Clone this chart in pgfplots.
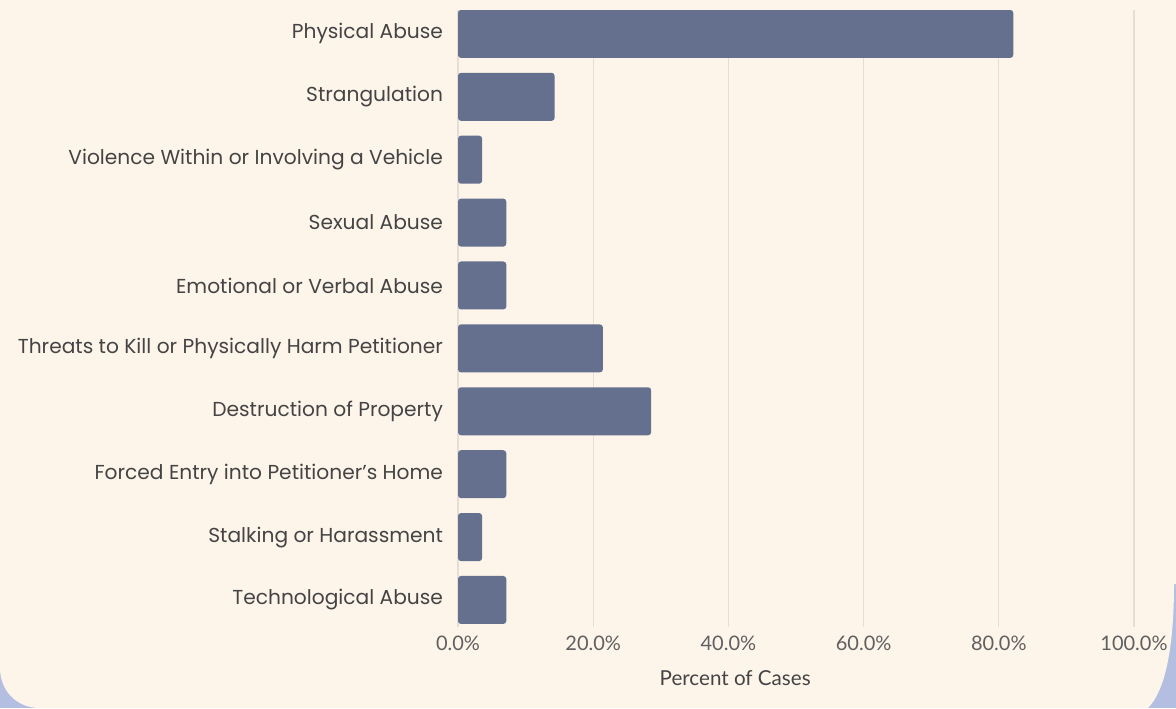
\documentclass[border=0pt]{standalone}
\usepackage{pgfplots}
\pgfplotsset{compat=1.18}
\usepackage{fontspec}
\setmainfont{Poppins}
\newfontfamily\tickfont{Lato}
\definecolor{bg}{HTML}{FDF4EA}
\definecolor{outer}{HTML}{B4BEE0}
\definecolor{barc}{HTML}{65708F}
\definecolor{gridc}{HTML}{E6DED6}
\definecolor{labc}{HTML}{444444}
\begin{document}
\begin{tikzpicture}
\useasboundingbox (0,0) rectangle (588pt,354pt);
\fill[outer] (0,0) rectangle (588pt,354pt);
\fill[bg] (0,354pt) -- (0,20pt) .. controls (0,9pt) and (8pt,0) .. (20pt,0) -- (574pt,0) .. controls (582pt,8pt) and (587pt,28pt) .. (587pt,62pt) -- (588pt,62pt) -- (588pt,354pt) -- cycle;
\begin{axis}[
  at={(229pt,40.5pt)}, anchor=south west,
  scale only axis, width=338pt, height=308.5pt,
  xbar, bar width=24pt,
  xmin=0, xmax=100, ymin=-0.38, ymax=9.43,
  y dir=reverse,
  ytick={0,...,9},
  yticklabels={Physical Abuse,Strangulation,Violence Within or Involving a Vehicle,Sexual Abuse,Emotional or Verbal Abuse,Threats to Kill or Physically Harm Petitioner,Destruction of Property,Forced Entry into Petitioner’s Home,Stalking or Harassment,Technological Abuse},
  yticklabel style={font=\fontsize{10.1pt}{11pt}\selectfont, text=labc, xshift=-4pt},
  xtick={0,20,40,60,80,100},
  xticklabel={\pgfmathprintnumber[fixed,fixed zerofill,precision=1]{\tick}\%},
  /pgf/number format/assume math mode=true,
  xticklabel style={font=\tickfont\fontsize{10pt}{12pt}\selectfont, text=labc!85, yshift=-1pt},
  xlabel={Percent of Cases},
  xlabel style={font=\tickfont\fontsize{10.3pt}{12pt}\selectfont, text=labc, at={(ticklabel cs:0.41)}, anchor=north, yshift=-3pt},
  axis line style={draw=none},
  major tick length=0pt,
  xmajorgrids, grid style={gridc, line width=0.6pt},
]
\addplot[fill=barc, draw=none, rounded corners=1.5pt] coordinates {
(82.14,0) (14.29,1) (3.57,2) (7.14,3) (7.14,4) (21.43,5) (28.57,6) (7.14,7) (3.57,8) (7.14,9)};
\end{axis}
\end{tikzpicture}
\end{document}
